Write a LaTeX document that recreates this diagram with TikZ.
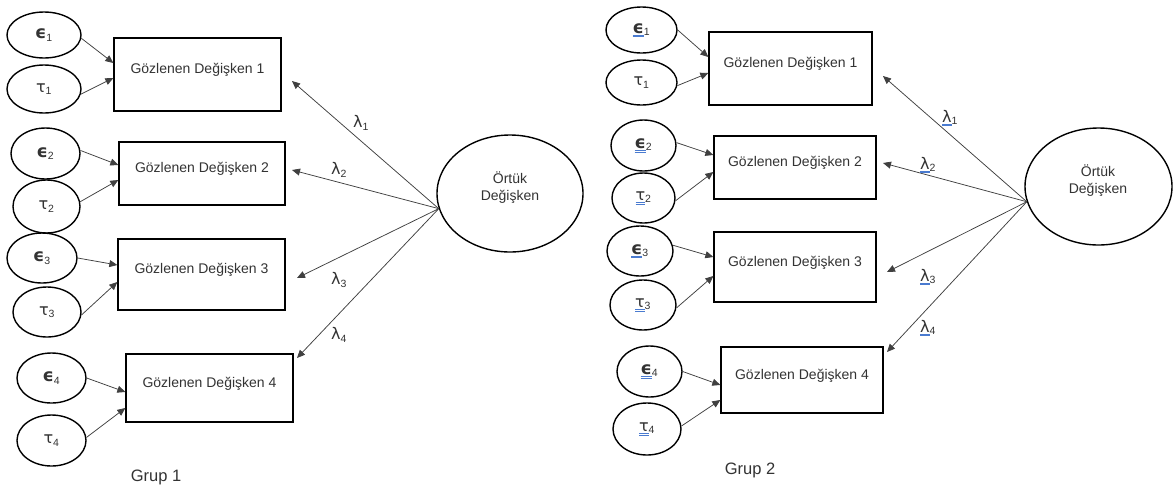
\documentclass[tikz,border=0pt]{standalone}
\usepackage{fontspec}
\setmainfont{Liberation Sans}
\newfontfamily\gk{DejaVu Sans}
\usetikzlibrary{arrows.meta,shapes.geometric}
\definecolor{txt}{HTML}{333333}
\definecolor{ulblue}{HTML}{4A7BD0}
\newlength\ulw
\newcommand\dul[1]{\settowidth\ulw{#1}\rlap{\color{ulblue}\rule[-2.2pt]{\ulw}{0.45pt}}\rlap{\color{ulblue}\rule[-3.6pt]{\ulw}{0.45pt}}#1}
\newcommand\epsl{{\gk\bfseries\fontsize{17.5}{18}\selectfont ϵ}}
\newcommand\taul{{\gk\fontsize{16}{18}\selectfont τ}}
\newcommand\laml{{\gk\fontsize{16}{18}\selectfont λ}}
\tikzset{
  obs/.style={draw, line width=1.3pt, inner sep=0pt, text=txt,
    font=\fontsize{14}{16}\selectfont, text height=10pt, text depth=12pt},
  err/.style={ellipse, draw, line width=1.4pt, inner sep=0pt, text=txt,
    font=\fontsize{15}{17}\selectfont},
  lat/.style={ellipse, draw, line width=1.4pt, inner sep=0pt,
    minimum width=146pt, minimum height=117pt},
  lattext/.style={align=center, text=txt, font=\fontsize{14}{17}\selectfont},
  lab/.style={text=txt, inner sep=1pt, font=\fontsize{15}{17}\selectfont},
  pth/.style={draw=black!75, line width=0.75pt, -{Triangle[length=8pt,width=7pt]}},
  grp/.style={text=txt, font=\fontsize{16.5}{18}\selectfont}
}
\begin{document}
\begin{tikzpicture}[x=1pt,y=-1pt]
\useasboundingbox (0,0) rectangle (1173,491);
\fill[white] (0,0) rectangle (1173,491);

% ---------------- Group 1 ----------------
\node[obs, minimum width=167pt, minimum height=73pt] (b1) at (197.5,74.5) {Gözlenen Değişken 1};
\node[obs, minimum width=166pt, minimum height=63pt] (b2) at (202,173.5) {Gözlenen Değişken 2};
\node[obs, minimum width=167pt, minimum height=71pt] (b3) at (201.5,274.5) {Gözlenen Değişken 3};
\node[obs, minimum width=167pt, minimum height=68pt] (b4) at (209.5,388) {Gözlenen Değişken 4};

\node[err, minimum width=74pt, minimum height=46pt] (e1) at (44,35) {\epsl\textsubscript{1}};
\node[err, minimum width=74pt, minimum height=48pt] (t1) at (44,89) {\taul\textsubscript{1}};
\node[err, minimum width=69pt, minimum height=51pt] (e2) at (45.5,153.5) {\epsl\textsubscript{2}};
\node[err, minimum width=67pt, minimum height=53pt] (t2) at (46.5,206.5) {\taul\textsubscript{2}};
\node[err, minimum width=70pt, minimum height=50pt] (e3) at (42,258) {\epsl\textsubscript{3}};
\node[err, minimum width=68pt, minimum height=50pt] (t3) at (47,312) {\taul\textsubscript{3}};
\node[err, minimum width=69pt, minimum height=50pt] (e4) at (51.5,378) {\epsl\textsubscript{4}};
\node[err, minimum width=69pt, minimum height=51pt] (t4) at (51.5,440.5) {\taul\textsubscript{4}};

\path[pth] (e1.-5) -- ([yshift=11.5pt]b1.west);
\path[pth] (t1.-8) -- ([yshift=-3.5pt]b1.west);
\path[pth] (e2.5) -- ([yshift=8.5pt]b2.west);
\path[pth] (t2.8) -- ([yshift=-6.5pt]b2.west);
\path[pth] (e3.0) -- ([yshift=9.5pt]b3.west);
\path[pth] (t3.-5) -- ([yshift=-7.5pt]b3.west);
\path[pth] (e4.0) -- ([yshift=-4pt]b4.west);
\path[pth] (t4.5) -- ([yshift=-20pt]b4.west);

\node[lat] (L1) at (510,193.5) {};
\node[lattext] (LT1) at (510,187.5) {Örtük\\Değişken};

\coordinate (a1) at (292,81);
\coordinate (a2) at (292,170);
\coordinate (a3) at (297,278);
\coordinate (a4) at (297,358);
\path[pth] (L1.192) -- (a1);
\path[pth] (L1.192) -- (a2);
\path[pth] (L1.192) -- (a3);
\path[pth] (L1.192) -- (a4);

\node[lab] (l1) at (361,123) {\laml\textsubscript{1}};
\node[lab] (l2) at (339,170) {\laml\textsubscript{2}};
\node[lab] (l3) at (339,280) {\laml\textsubscript{3}};
\node[lab] (l4) at (339,335) {\laml\textsubscript{4}};

\node[grp] (g1) at (156,477) {Grup 1};

% ---------------- Group 2 ----------------
\node[obs, minimum width=163pt, minimum height=73pt] (c1) at (790.5,68.5) {Gözlenen Değişken 1};
\node[obs, minimum width=162pt, minimum height=63pt] (c2) at (795,167.5) {Gözlenen Değişken 2};
\node[obs, minimum width=162pt, minimum height=70pt] (c3) at (795,267) {Gözlenen Değişken 3};
\node[obs, minimum width=162pt, minimum height=66pt] (c4) at (802,380) {Gözlenen Değişken 4};

\node[err, minimum width=71pt, minimum height=46pt] (f1) at (641.5,30) {\dul{\epsl}\textsubscript{1}};
\node[err, minimum width=71pt, minimum height=45pt] (u1) at (641.5,82.5) {\taul\textsubscript{1}};
\node[err, minimum width=65pt, minimum height=51pt] (f2) at (643.5,145.5) {\dul{\epsl}\textsubscript{2}};
\node[err, minimum width=63pt, minimum height=50pt] (u2) at (643.5,198) {\dul{\taul}\textsubscript{2}};
\node[err, minimum width=66pt, minimum height=50pt] (f3) at (640,251) {\dul{\epsl}\textsubscript{3}};
\node[err, minimum width=66pt, minimum height=50pt] (u3) at (643,305) {\dul{\taul}\textsubscript{3}};
\node[err, minimum width=65pt, minimum height=51pt] (f4) at (649.5,371.5) {\dul{\epsl}\textsubscript{4}};
\node[err, minimum width=68pt, minimum height=52pt] (u4) at (647,429) {\dul{\taul}\textsubscript{4}};

\path[pth] (f1.0) -- ([yshift=11.5pt]c1.west);
\path[pth] (u1.-5) -- ([yshift=-4.5pt]c1.west);
\path[pth] (f2.5) -- ([yshift=12.5pt]c2.west);
\path[pth] (u2.-5) -- ([yshift=-4.5pt]c2.west);
\path[pth] (f3.10) -- ([yshift=10pt]c3.west);
\path[pth] (u3.-5) -- ([yshift=-9pt]c3.west);
\path[pth] (f4.0) -- ([yshift=-5pt]c4.west);
\path[pth] (u4.5) -- ([yshift=-20pt]c4.west);

\node[lat, minimum width=147pt] (L2) at (1098.5,186.5) {};
\node[lattext] (LT2) at (1098,180.5) {Örtük\\Değişken};

\coordinate (d1) at (883,76);
\coordinate (d2) at (883,163);
\coordinate (d3) at (887,272);
\coordinate (d4) at (887,352);
\path[pth] (L2.192) -- (d1);
\path[pth] (L2.192) -- (d2);
\path[pth] (L2.192) -- (d3);
\path[pth] (L2.192) -- (d4);

\node[lab] (m1) at (950,118) {\dul{\laml}\textsubscript{1}};
\node[lab] (m2) at (928,165) {\dul{\laml}\textsubscript{2}};
\node[lab] (m3) at (928,277) {\dul{\laml}\textsubscript{3}};
\node[lab] (m4) at (928,328) {\dul{\laml}\textsubscript{4}};

\node[grp] (g2) at (750,470) {Grup 2};
\end{tikzpicture}
\end{document}
